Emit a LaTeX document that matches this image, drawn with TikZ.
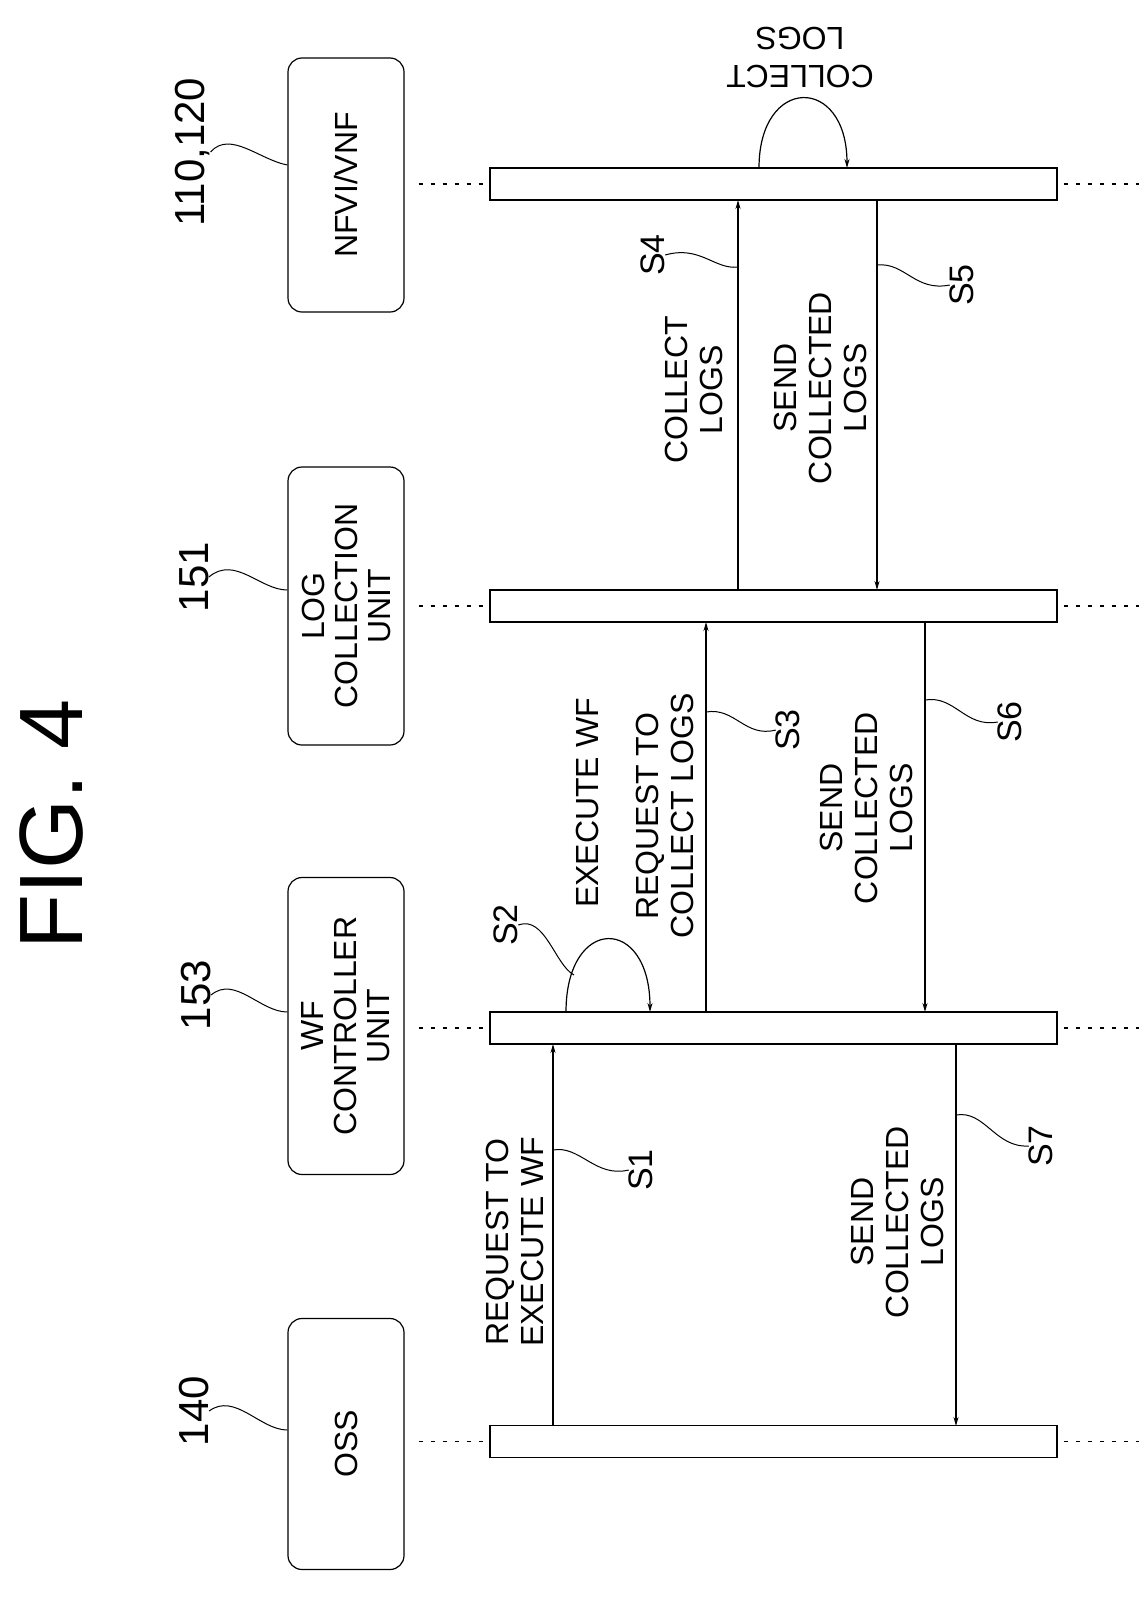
\documentclass[tikz,border=0pt]{standalone}
\usepackage{fontspec}
\setmainfont{Liberation Sans}
\usetikzlibrary{arrows.meta}
\begin{document}
\begin{tikzpicture}[x=1pt,y=-1pt,
  box/.style={draw,line width=1.2pt,rounded corners=14pt,rotate=90,minimum height=116pt,inner sep=0pt,align=center,font=\fontsize{32}{33}\selectfont},
  bar/.style={draw,line width=1.2pt,minimum width=567pt,minimum height=32pt,inner sep=0pt},
  life/.style={line width=1.2pt,dash pattern=on 4pt off 8pt},
  msg/.style={line width=1.2pt,-{Stealth[length=9pt,width=5pt]}},
  lbl/.style={rotate=90,align=center,font=\fontsize{32}{35}\selectfont,inner sep=0pt},
  tag/.style={rotate=90,font=\fontsize{34}{34}\selectfont,inner sep=0pt},
  num/.style={rotate=90,font=\fontsize{42}{42}\selectfont,inner sep=0pt},
  lead/.style={line width=1pt}]
\useasboundingbox (0,0) rectangle (1139,1601);

\node[rotate=90,font=\fontsize{90}{90}\selectfont,inner sep=0pt] (fig) at (52,824) {FIG. 4};

% header boxes
\node[box,minimum width=254pt] (nfvi) at (346,185) {NFVI/VNF};
\node[box,minimum width=278pt] (log) at (346,606) {LOG\\COLLECTION\\UNIT};
\node[box,minimum width=297pt] (wf) at (346,1026) {WF\\CONTROLLER\\UNIT};
\node[box,minimum width=251pt] (oss) at (346,1444) {OSS};

% numbers
\node[num] (n110) at (193,152) {110,120};
\node[num] (n151) at (194,577) {151};
\node[num] (n153) at (196,995) {153};
\node[num] (n140) at (194,1411) {140};
\draw[lead] (n110.south) .. controls (230,130) and (260,160) .. (nfvi.north west |- 0,165);
\draw[lead] (n151.south) .. controls (235,555) and (260,590) .. (log.north west |- 0,590);
\draw[lead] (n153.south) .. controls (235,975) and (260,1012) .. (wf.north west |- 0,1012);
\draw[lead] (n140.south) .. controls (235,1392) and (260,1430) .. (oss.north west |- 0,1430);

% bars
\node[bar] (bn) at (773.5,184) {};
\node[bar] (bl) at (773.5,606) {};
\node[bar] (bw) at (773.5,1028) {};
\node[bar] (bo) at (773.5,1441.5) {};

\foreach \b/\h in {bn/nfvi,bl/log,bw/wf,bo/oss}{
  \draw[life] (\h.south |- \b.west) ++(14,0) -- (\b.west);
  \draw[life] (\b.east) ++(6,0) -- ++(80,0);
}

% coordinates of message ends
\coordinate (s1a) at (553,1426); \coordinate (s1b) at (553,1044);
\coordinate (s7a) at (956,1044); \coordinate (s7b) at (956,1426);
\coordinate (s3a) at (706,1012); \coordinate (s3b) at (706,622);
\coordinate (s6a) at (925,622);  \coordinate (s6b) at (925,1012);
\coordinate (s4a) at (738,590);  \coordinate (s4b) at (738,200);
\coordinate (s5a) at (877,200);  \coordinate (s5b) at (877,590);
\coordinate (s2a) at (566,1012); \coordinate (s2b) at (650,1012);
\coordinate (cla) at (759,168);  \coordinate (clb) at (847,168);

\draw[msg] (s1a) -- (s1b);
\draw[msg] (s7a) -- (s7b);
\draw[msg] (s3a) -- (s3b);
\draw[msg] (s6a) -- (s6b);
\draw[msg] (s4a) -- (s4b);
\draw[msg] (s5a) -- (s5b);
\draw[msg] (s2a) .. controls (566,915) and (650,915) .. (s2b);
\draw[msg] (cla) .. controls (759,75) and (847,75) .. (clb);

% labels
\node[lbl] (t1) at (515,1242) {REQUEST TO\\EXECUTE WF};
\node[lbl] (t7) at (897,1222) {SEND\\COLLECTED\\LOGS};
\node[lbl] (t2) at (587,803) {EXECUTE WF};
\node[lbl] (t3) at (665,816) {REQUEST TO\\COLLECT LOGS};
\node[lbl] (t6) at (866,808) {SEND\\COLLECTED\\LOGS};
\node[lbl] (t4) at (694,390) {COLLECT\\LOGS};
\node[lbl] (t5) at (820,388) {SEND\\COLLECTED\\LOGS};
\node[rotate=180,align=center,font=\fontsize{32}{38}\selectfont,inner sep=0pt] (tc) at (800,58) {COLLECT\\LOGS};

% step tags
\node[tag] (S1) at (641,1170) {S1};
\node[tag] (S7) at (1041,1146) {S7};
\node[tag] (S2) at (506,925) {S2};
\node[tag] (S3) at (788,730) {S3};
\node[tag] (S6) at (1010,722) {S6};
\node[tag] (S4) at (653,255) {S4};
\node[tag] (S5) at (962,285) {S5};
\draw[lead] (553,1150) .. controls (580,1145) and (595,1178) .. (S1.north);
\draw[lead] (956,1115) .. controls (985,1110) and (995,1148) .. (S7.north);
\draw[lead] (S2.south) .. controls (545,915) and (555,965) .. (574,975);
\draw[lead] (706,712) .. controls (735,707) and (745,738) .. (S3.north);
\draw[lead] (925,700) .. controls (955,695) and (965,728) .. (S6.north);
\draw[lead] (738,267) .. controls (715,270) and (700,245) .. (S4.south);
\draw[lead] (877,265) .. controls (905,262) and (915,292) .. (S5.north);
\end{tikzpicture}
\end{document}
